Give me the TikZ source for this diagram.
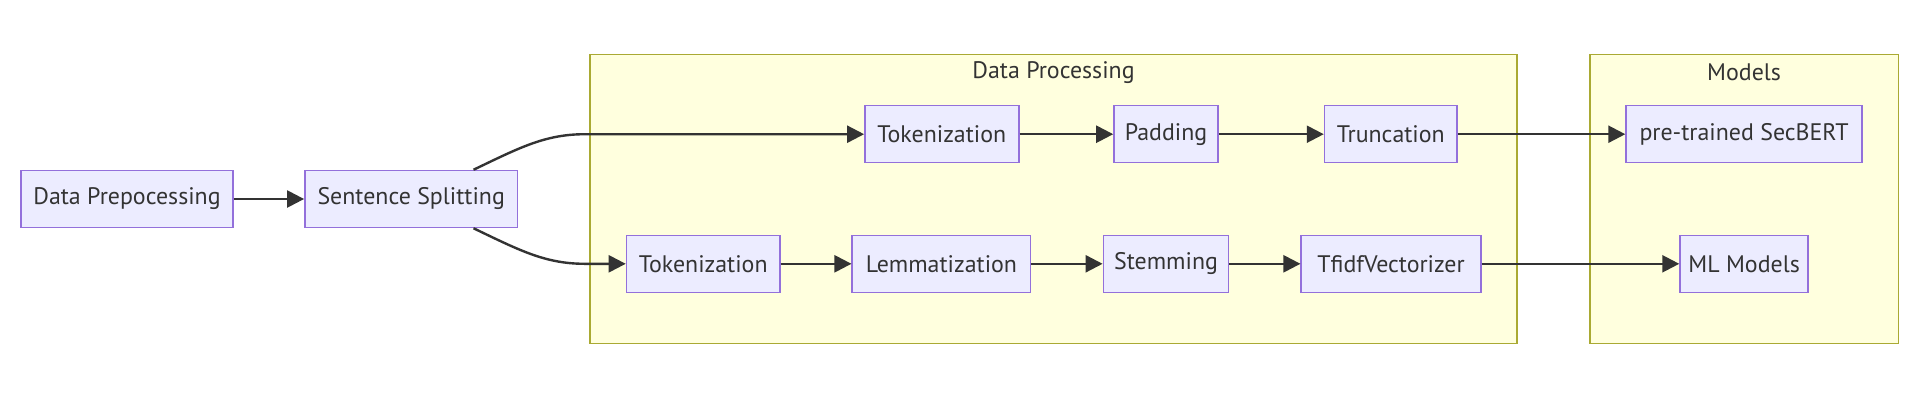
\documentclass[tikz,border=0pt]{standalone}
\usepackage{fontspec}
\setmainfont{PT Sans}
\usetikzlibrary{arrows.meta}
\definecolor{nodefill}{HTML}{ECECFF}
\definecolor{nodedraw}{HTML}{9370DB}
\definecolor{clfill}{HTML}{FFFFDE}
\definecolor{cldraw}{HTML}{AAAA33}
\definecolor{txt}{HTML}{333333}
\tikzset{
  proc/.style={draw=nodedraw, fill=nodefill, line width=1.5bp, inner sep=0pt,
    minimum height=57bp, text=txt, font=\fontsize{24}{28}\selectfont},
  cluster/.style={draw=cldraw, fill=clfill, line width=1.5bp},
  cltitle/.style={text=txt, font=\fontsize{24}{28}\selectfont, inner sep=0pt},
  flow/.style={draw=txt, line width=2.4bp, -{Triangle[length=17bp,width=17bp]}},
}
\begin{document}
\begin{tikzpicture}[x=1bp,y=-1bp]
\useasboundingbox[fill=white] (0,0) rectangle (1920,405);
% clusters
\draw[cluster] (589.8,54.3) rectangle (1517.1,343.3);
\draw[cluster] (1589.8,54.3) rectangle (1898.4,343.3);
\node[cltitle] (dptitle) at (1053.5,72.7) {Data Processing};
\node[cltitle] (mtitle) at (1744.1,72.7) {Models};
% nodes
\node[proc, minimum width=211.5bp] (dp) at (127,199) {Data Prepocessing};
\node[proc, minimum width=212.7bp] (ss) at (411.2,199) {Sentence Splitting};
\node[proc, minimum width=153.9bp] (tokA) at (941.8,134.2) {Tokenization};
\node[proc, minimum width=104.1bp] (pad) at (1166,134.2) {Padding};
\node[proc, minimum width=132.6bp] (trunc) at (1390.8,134.2) {Truncation};
\node[proc, minimum width=235.9bp] (bert) at (1744,134.2) {pre-trained SecBERT};
\node[proc, minimum width=153.5bp] (tokB) at (703.2,263.8) {Tokenization};
\node[proc, minimum width=178.4bp] (lem) at (941.4,263.8) {Lemmatization};
\node[proc, minimum width=125.3bp] (stem) at (1166,263.8) {Stemming};
\node[proc, minimum width=179.6bp] (tfidf) at (1391,263.8) {TfidfVectorizer};
\node[proc, minimum width=128.2bp] (ml) at (1744.1,263.8) {ML Models};
% connectors
\coordinate (upA) at (585,134.2);
\coordinate (loA) at (585,263.8);
\draw[flow] (dp) -- (ss);
\draw[flow] ([xshift=62.3bp]ss.north) .. controls +(46,-22) and (545,134.2) .. (upA) -- (tokA);
\draw[flow] ([xshift=62.3bp]ss.south) .. controls +(46,22) and (545,263.8) .. (loA) -- (tokB);
\draw[flow] (tokA) -- (pad);
\draw[flow] (pad) -- (trunc);
\draw[flow] (trunc) -- (bert);
\draw[flow] (tokB) -- (lem);
\draw[flow] (lem) -- (stem);
\draw[flow] (stem) -- (tfidf);
\draw[flow] (tfidf) -- (ml);
\end{tikzpicture}
\end{document}
